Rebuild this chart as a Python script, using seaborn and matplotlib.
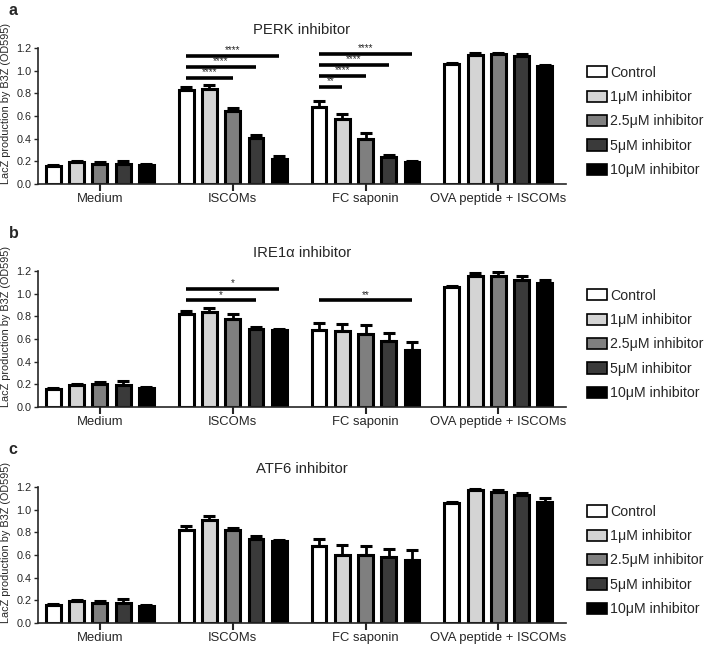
import numpy as np
import pandas as pd
import seaborn as sns
import matplotlib.pyplot as plt

sns.set_theme(style="ticks")
plt.rcParams["font.family"] = ["Liberation Sans", "DejaVu Sans"]

conditions = ["Medium", "ISCOMs", "FC saponin", "OVA peptide + ISCOMs"]
treatments = ["Control", "1μM inhibitor", "2.5μM inhibitor", "5μM inhibitor", "10μM inhibitor"]
colors = ["#ffffff", "#d4d4d4", "#7f7f7f", "#3a3a3a", "#000000"]

# rows = condition, cols = treatment
perk_mean = [[0.16, 0.19, 0.18, 0.18, 0.17],
             [0.83, 0.84, 0.64, 0.41, 0.22],
             [0.68, 0.57, 0.40, 0.24, 0.19],
             [1.06, 1.14, 1.15, 1.13, 1.04]]
perk_err = [[0.01, 0.01, 0.01, 0.02, 0.01],
            [0.03, 0.03, 0.03, 0.02, 0.03],
            [0.05, 0.05, 0.05, 0.02, 0.01],
            [0.01, 0.02, 0.01, 0.02, 0.01]]

ire_mean = [[0.16, 0.19, 0.20, 0.19, 0.17],
            [0.82, 0.84, 0.78, 0.69, 0.68],
            [0.68, 0.67, 0.64, 0.58, 0.50],
            [1.06, 1.16, 1.16, 1.12, 1.09]]
ire_err = [[0.01, 0.01, 0.02, 0.04, 0.01],
           [0.03, 0.03, 0.04, 0.02, 0.01],
           [0.06, 0.06, 0.08, 0.07, 0.07],
           [0.01, 0.02, 0.03, 0.04, 0.03]]

atf_mean = [[0.16, 0.19, 0.18, 0.18, 0.15],
            [0.82, 0.91, 0.82, 0.74, 0.72],
            [0.68, 0.60, 0.60, 0.58, 0.56],
            [1.06, 1.17, 1.16, 1.13, 1.07]]
atf_err = [[0.01, 0.01, 0.01, 0.03, 0.01],
           [0.04, 0.03, 0.02, 0.03, 0.01],
           [0.06, 0.09, 0.08, 0.07, 0.08],
           [0.01, 0.01, 0.01, 0.02, 0.03]]

# significance: (condition index, compared treatment index, y, label)
perk_sig = [(1, 2, 0.935, "****"), (1, 3, 1.035, "****"), (1, 4, 1.13, "****"),
            (2, 1, 0.86, "**"), (2, 2, 0.955, "****"), (2, 3, 1.05, "****"), (2, 4, 1.15, "****")]
ire_sig = [(1, 3, 0.94, "*"), (1, 4, 1.045, "*"), (2, 4, 0.94, "**")]
atf_sig = []

panels = [
    ("a", "PERK inhibitor", perk_mean, perk_err, perk_sig, 0.7152),
    ("b", "IRE1α inhibitor", ire_mean, ire_err, ire_sig, 0.370),
    ("c", "ATF6 inhibitor", atf_mean, atf_err, atf_sig, 0.0356),
]

fig = plt.figure(figsize=(7.07, 6.46), dpi=100)

for letter, title, mean, err, sig, bottom in panels:
    ax = fig.add_axes([0.0537, bottom, 0.747, 0.2105])
    df = pd.DataFrame([
        {"condition": c, "treatment": t, "value": mean[i][j]}
        for i, c in enumerate(conditions) for j, t in enumerate(treatments)
    ])
    sns.barplot(data=df, x="condition", y="value", hue="treatment",
                order=conditions, hue_order=treatments, palette=colors,
                edgecolor="black", linewidth=2.2, width=0.875, gap=0.36,
                errorbar=None, ax=ax)

    bar_conts = list(ax.containers)
    centers = {}
    for j, cont in enumerate(bar_conts):
        xs = [b.get_x() + b.get_width() / 2 for b in cont]
        ys = [b.get_height() for b in cont]
        e = [err[i][j] for i in range(len(conditions))]
        ax.errorbar(xs, ys, yerr=[np.zeros(len(e)), e], fmt="none",
                    ecolor="black", elinewidth=2, capsize=4, capthick=2.2, zorder=1)
        for i, x in enumerate(xs):
            centers[(i, j)] = x

    for ci, tj, y, lab in sig:
        x0 = centers[(ci, 0)]
        x1 = centers[(ci, tj)]
        ax.plot([x0, x1], [y, y], color="black", lw=2.6, solid_capstyle="butt", clip_on=False)
        ax.text((x0 + x1) / 2, y + 0.004, lab, ha="center", va="bottom", fontsize=7, clip_on=False)

    ax.set_xlim(-0.466, 3.51)
    ax.set_ylim(0, 1.2)
    ax.set_yticks(np.arange(0, 1.21, 0.2))
    ax.set_yticklabels([f"{v:.1f}" for v in np.arange(0, 1.21, 0.2)])
    ax.tick_params(axis="y", labelsize=7.8, length=3, width=1, pad=1.5)
    ax.tick_params(axis="x", labelsize=9.4, length=5, width=1.5, pad=1.5)
    ax.set_xlabel("")
    ax.set_ylabel("LacZ production by B3Z (OD595)", fontsize=7.8)
    ax.yaxis.set_label_coords(-0.052, 0.59)
    ax.set_title(title, fontsize=10.7, pad=10)
    sns.despine(ax=ax)
    for s in ["left", "bottom"]:
        ax.spines[s].set_linewidth(1.2)

    sns.move_legend(ax, "center left", bbox_to_anchor=(1.04, 0.46), frameon=False,
                    title=None, fontsize=10.2, labelspacing=0.73, handlelength=1.4,
                    handleheight=0.85, handletextpad=0.2, borderaxespad=0, borderpad=0)
    for h in ax.get_legend().get_patches():
        h.set_edgecolor("black")
        h.set_linewidth(1.2)

    fig.text(0.012, bottom + 0.2105 + 0.058, letter, fontsize=11.5, fontweight="bold", va="center")

fig.savefig("out.png", dpi=100)
